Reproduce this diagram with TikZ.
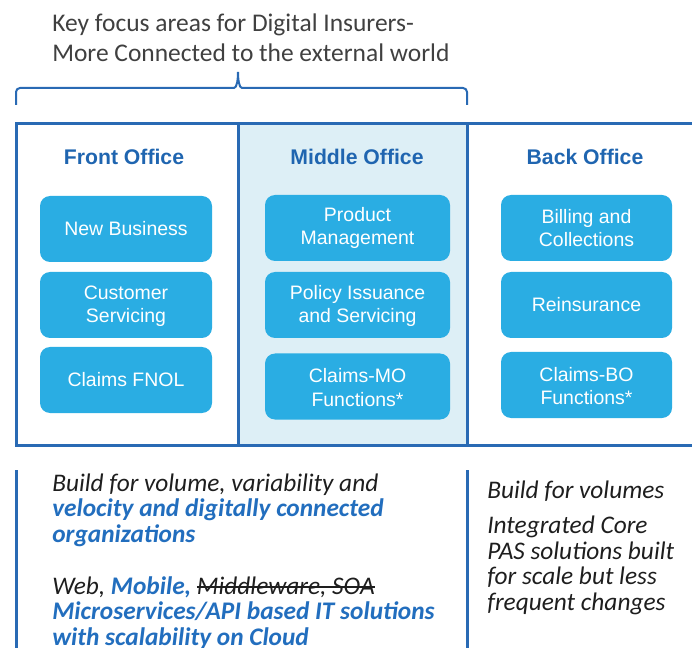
\documentclass[tikz,border=0pt]{standalone}
\usepackage{fontspec}
\setmainfont{Carlito}
\newfontfamily\boxfont{Liberation Sans}
\usepackage{tikz}
\usetikzlibrary{positioning}
\definecolor{frameblue}{RGB}{41,106,180}
\definecolor{headblue}{RGB}{31,101,176}
\definecolor{boxcyan}{RGB}{42,173,227}
\definecolor{midfill}{RGB}{221,239,246}
\definecolor{textblue}{RGB}{34,110,190}
\definecolor{titlegray}{RGB}{64,64,64}
\definecolor{bodyblack}{RGB}{30,30,30}

\tikzset{
    unitbox/.style={fill=boxcyan, rounded corners=7.5pt, text=white, align=center,
        font=\boxfont\fontsize{14.6}{17.3}\selectfont, minimum height=49.5pt, inner sep=0pt},
    officehead/.style={text=headblue, font=\boxfont\bfseries\fontsize{15.9}{18}\selectfont},
    bodytext/.style={anchor=base west, align=left, inner sep=0pt, text=bodyblack,
        font=\itshape\fontsize{19}{18.9}\selectfont}
}
\newcommand{\hl}[1]{\textcolor{textblue}{\bfseries #1}}
\newsavebox{\strikebox}
\newcommand{\struck}[1]{\sbox{\strikebox}{#1}\rlap{\usebox{\strikebox}}\rule[0.27em]{\wd\strikebox}{0.06em}}

\begin{document}
\begin{tikzpicture}[x=0.75pt,y=-0.75pt]
    \useasboundingbox (0,0) rectangle (692,648);
    % Heading (anchored on its last baseline)
    \node[anchor=base west, align=left, inner sep=0pt, text=titlegray,
        font=\fontsize{19.1}{22.5}\selectfont] (title) at (52,61.7)
        {Key focus areas for Digital Insurers-\\More Connected to the external world};
    % Brace over front and middle office
    \draw[frameblue, line width=1.5pt, rounded corners=3pt]
        (16,105) |- (230,88) to[out=0,in=-90] (238,72);
    \draw[frameblue, line width=1.5pt, rounded corners=3pt]
        (238,72) to[out=-90,in=180] (246,88) -| (467,105);
    % Middle column shading
    \fill[midfill] (238,124) rectangle (467,445);
    % Frame and dividers
    \draw[frameblue, line width=2.25pt] (692,124) -- (16,124) -- (16,445) -- (692,445);
    \draw[frameblue, line width=2.25pt] (238,124) -- (238,445);
    \draw[frameblue, line width=2.25pt] (467,124) -- (467,445);
    % Column headings
    \node[officehead] (front) at (124,157) {Front Office};
    \node[officehead] (middle) at (357,157) {Middle Office};
    \node[officehead] (back) at (585,157) {Back Office};
    % Front office units
    \node[unitbox, minimum width=129pt] (newbiz) at (126,229) {New Business};
    \node[unitbox, minimum width=129pt] (custserv) at (126,305) {\strut Customer\\Servicing};
    \node[unitbox, minimum width=129pt] (fnol) at (126,380) {Claims FNOL};
    % Middle office units
    \node[unitbox, minimum width=138.75pt] (prodmgmt) at (357.5,228) {Product\\Management};
    \node[unitbox, minimum width=138.75pt] (policy) at (357.5,305) {\strut Policy Issuance\\and Servicing};
    \node[unitbox, minimum width=138.75pt] (claimsmo) at (357.5,386.5) {\strut Claims-MO\\Functions*};
    % Back office units
    \node[unitbox, minimum width=128.25pt] (billing) at (586.5,228) {Billing and\\Collections};
    \node[unitbox, minimum width=128.25pt] (reins) at (586.5,305) {Reinsurance};
    \node[unitbox, minimum width=128.25pt] (claimsbo) at (586.5,385) {\strut Claims-BO\\Functions*};
    % Notes below
    \draw[frameblue, line width=2.25pt] (16,470) -- (16,648);
    \draw[frameblue, line width=2.25pt] (467,470) -- (467,648);
    \node[bodytext] (frontnote) at (52,542)
        {Build for volume, variability and\\
         \hl{velocity and digitally connected}\\
         \hl{organizations}};
    \node[bodytext] (technote) at (52,645)
        {Web, \hl{Mobile,} \struck{Middleware, SOA}\\
         \hl{Microservices/API based IT solutions}\\
         \hl{with scalability on Cloud}};
    \node[bodytext] (backnote) at (487,498) {Build for volumes};
    \node[bodytext, font=\itshape\fontsize{19}{19.1}\selectfont] (corenote) at (487,610)
        {Integrated Core\\PAS solutions built\\for scale but less\\frequent changes};
\end{tikzpicture}
\end{document}
